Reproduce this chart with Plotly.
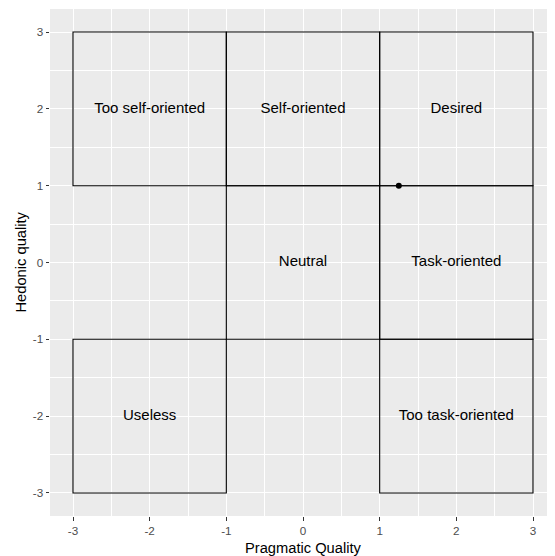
import plotly.graph_objects as go

# Quadrant rectangles (x0, x1, y0, y1) and labels
rect_labels = ["Too self-oriented", "Self-oriented", "Desired", "Neutral",
               "Task-oriented", "Useless", "Too task-oriented"]
rect_x0 = [-3, -1, 1, -1, 1, -3, 1]
rect_x1 = [-1, 1, 3, 1, 3, -1, 3]
rect_y0 = [1, 1, 1, -1, -1, -3, -3]
rect_y1 = [3, 3, 3, 1, 1, -1, -1]

# Observed point
point_x = [1.25]
point_y = [1.0]

ticks = [-3, -2, -1, 0, 1, 2, 3]

FONT = "Liberation Sans, Arial, sans-serif"

fig = go.Figure()

for x0, x1, y0, y1 in zip(rect_x0, rect_x1, rect_y0, rect_y1):
    fig.add_shape(type="rect", xref="x", yref="y", x0=x0, x1=x1, y0=y0, y1=y1,
                  line=dict(color="black", width=1.1), fillcolor="rgba(0,0,0,0)",
                  layer="above")

label_x = [(a + b) / 2 for a, b in zip(rect_x0, rect_x1)]
label_y = [(a + b) / 2 for a, b in zip(rect_y0, rect_y1)]
fig.add_trace(go.Scatter(x=label_x, y=label_y, text=rect_labels, mode="text",
                         textposition="middle center",
                         textfont=dict(family=FONT, size=15, color="black"),
                         hoverinfo="skip", showlegend=False))

fig.add_trace(go.Scatter(x=point_x, y=point_y, mode="markers",
                         marker=dict(color="black", size=6),
                         showlegend=False))

axis_common = dict(
    range=[-3.3, 3.3], tickvals=ticks, ticktext=[str(t) for t in ticks],
    showgrid=True, gridcolor="white", gridwidth=1.1,
    minor=dict(dtick=0.5, tick0=0, showgrid=True, gridcolor="white", gridwidth=0.55, ticks=""),
    zeroline=False, showline=False,
    ticks="outside", ticklen=3.5, tickwidth=1.1, tickcolor="#333333",
    tickfont=dict(family=FONT, size=11.7, color="#4d4d4d"),
    fixedrange=True, automargin=False,
)

fig.update_layout(
    width=548, height=548,
    margin=dict(l=42, r=0, t=1, b=40),
    plot_bgcolor="#EBEBEB", paper_bgcolor="white",
    xaxis=dict(**axis_common),
    yaxis=dict(**axis_common),
    showlegend=False,
    annotations=[
        dict(text="Pragmatic Quality", xref="paper", yref="paper", x=0.5, y=0,
             xanchor="center", yanchor="middle", yshift=-32, showarrow=False,
             font=dict(family=FONT, size=14.7, color="black")),
        dict(text="Hedonic quality", xref="paper", yref="paper", x=0, y=0.5,
             xanchor="center", yanchor="middle", xshift=-30, textangle=-90,
             showarrow=False, font=dict(family=FONT, size=14.7, color="black")),
    ],
)

fig.write_html("out.html")
